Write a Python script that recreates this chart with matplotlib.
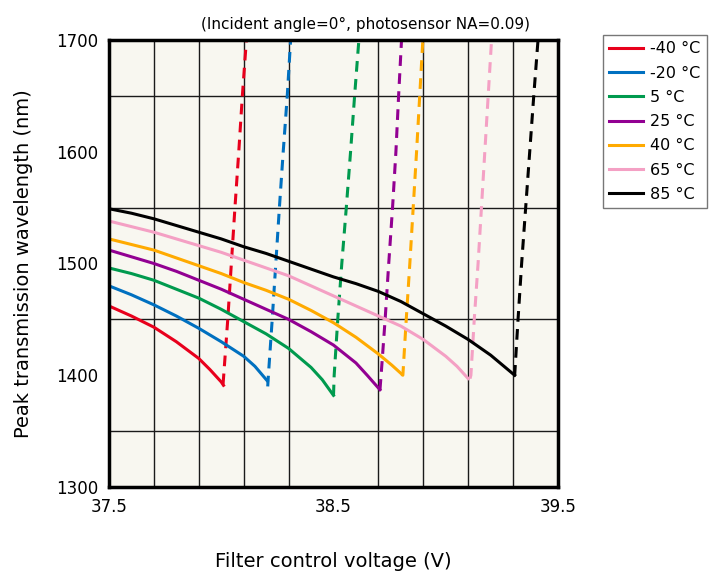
import numpy as np
import matplotlib
matplotlib.use('Agg')
import matplotlib.pyplot as plt

# temperatures and colours
temps = ['-40 °C', '-20 °C', '5 °C', '25 °C', '40 °C', '65 °C', '85 °C']
colors = ['#e8001c', '#0070c0', '#009a4e', '#920092', '#ffaa00', '#f4a0c4', '#000000']

# solid curves (voltage, wavelength)
solid_v = [
    [37.5, 37.6, 37.7, 37.8, 37.9, 37.95, 38.0, 38.01],
    [37.5, 37.6, 37.7, 37.8, 37.9, 38.0, 38.1, 38.15, 38.205],
    [37.5, 37.6, 37.7, 37.8, 37.9, 38.0, 38.1, 38.2, 38.3, 38.4, 38.45, 38.5],
    [37.5, 37.6, 37.7, 37.8, 37.9, 38.0, 38.1, 38.2, 38.3, 38.4, 38.5, 38.6, 38.65, 38.707],
    [37.5, 37.6, 37.7, 37.8, 37.9, 38.0, 38.1, 38.2, 38.3, 38.4, 38.5, 38.6, 38.7, 38.76,
     38.804],
    [37.5, 37.6, 37.7, 37.8, 37.9, 38.0, 38.1, 38.2, 38.3, 38.4, 38.5, 38.6, 38.7, 38.8,
     38.9, 39.0, 39.05, 39.1],
    [37.5, 37.6, 37.7, 37.8, 37.9, 38.0, 38.1, 38.2, 38.3, 38.4, 38.5, 38.6, 38.7, 38.8,
     38.9, 39.0, 39.1, 39.2, 39.307],
]
solid_w = [
    [1462, 1453, 1443, 1430, 1415, 1405, 1394, 1391],
    [1480, 1472, 1463, 1453, 1442, 1430, 1417, 1408, 1395],
    [1496, 1491, 1485, 1477, 1469, 1459, 1448, 1437, 1424, 1407, 1396, 1382],
    [1512, 1506, 1500, 1493, 1485, 1477, 1468, 1459, 1450, 1439, 1427, 1411, 1400, 1387],
    [1522, 1517, 1512, 1505, 1498, 1491, 1483, 1476, 1468, 1458, 1447, 1434, 1419, 1409,
     1401],
    [1538, 1533, 1528, 1522, 1516, 1510, 1503, 1496, 1489, 1480, 1471, 1462, 1453, 1444,
     1432, 1417, 1408, 1397],
    [1549, 1545, 1540, 1534, 1528, 1522, 1515, 1509, 1502, 1495, 1488, 1482, 1475, 1466,
     1455, 1444, 1432, 1418, 1400],
]

# dashed curves (voltage at bottom end, 1400 ... 1700 nm)
dash_w = [1392, 1400, 1450, 1500, 1550, 1600, 1650, 1700]
dash_v = [
    [38.008, 38.011, 38.029, 38.045, 38.061, 38.078, 38.094, 38.112],
    [38.207, 38.210, 38.227, 38.243, 38.259, 38.276, 38.294, 38.309],
    [38.500, 38.503, 38.519, 38.537, 38.557, 38.576, 38.594, 38.613],
    [38.707, 38.712, 38.730, 38.746, 38.763, 38.778, 38.790, 38.803],
    [38.804, 38.809, 38.824, 38.840, 38.855, 38.870, 38.884, 38.898],
    [39.108, 39.112, 39.127, 39.144, 39.159, 39.174, 39.189, 39.204],
    [39.305, 39.307, 39.322, 39.338, 39.356, 39.374, 39.392, 39.411],
]
dash_start = [1392, 1390, 1382, 1387, 1401, 1397, 1400]

fig = plt.figure(figsize=(7.12, 5.75), dpi=100)
ax = fig.add_axes([109/712, 1 - 487/575, 449/712, 447/575])
ax.set_facecolor('#f8f7f0')

for i in range(len(temps)):
    ax.plot(solid_v[i], solid_w[i], color=colors[i], lw=2.2, label=temps[i], zorder=3)
    w = list(dash_w)
    w[0] = dash_start[i]
    ax.plot(dash_v[i], w, color=colors[i], lw=2.2, ls=(0, (3.5, 2.4)), zorder=3)

ax.set_xlim(37.5, 39.5)
ax.set_ylim(1300, 1700)
ax.set_xticks([37.5, 38.5, 39.5])
ax.set_xticklabels(['37.5', '38.5', '39.5'])
ax.set_yticks([1300, 1400, 1500, 1600, 1700])
ax.set_xticks(np.arange(37.5, 39.51, 0.2), minor=True)
ax.set_yticks(np.arange(1300, 1701, 50), minor=True)
ax.grid(which='minor', color='#1a1a1a', lw=1.0, zorder=1)
ax.tick_params(which='both', length=0, labelsize=12, pad=8)
for s in ax.spines.values():
    s.set_linewidth(2.5)
    s.set_zorder(5)

ax.set_xlabel('Filter control voltage (V)', fontsize=14, labelpad=26)
ax.set_ylabel('Peak transmission wavelength (nm)', fontsize=14, labelpad=16)
ax.text(0.937, 1.017, '(Incident angle=0°, photosensor NA=0.09)', transform=ax.transAxes,
        ha='right', va='bottom', fontsize=11)

leg = fig.legend(loc='upper left', bbox_to_anchor=(603/712, 1 - 35/575), fontsize=11.5,
                 frameon=True, fancybox=False, handlelength=2.1, handletextpad=0.45,
                 labelspacing=0.58, borderpad=0.4, borderaxespad=0, edgecolor='#555555')
leg.get_frame().set_linewidth(1.0)

fig.savefig('out.png', dpi=100)
